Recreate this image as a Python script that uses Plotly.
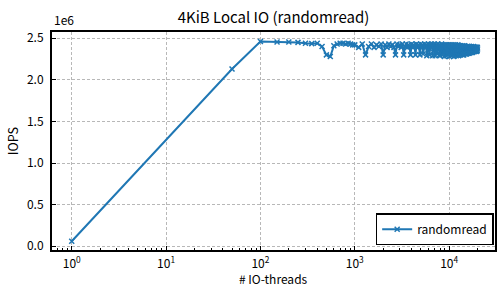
import plotly.graph_objects as go

# ---- data ----
threads_low = [1, 50, 100, 150, 200, 250, 300, 350, 400, 450,
               500, 550, 600, 650, 700, 750, 800, 850, 900, 950]
iops_low = [0.06, 2.13, 2.46, 2.455, 2.455, 2.45, 2.44, 2.435, 2.44, 2.40,
            2.30, 2.28, 2.41, 2.43, 2.44, 2.44, 2.43, 2.44, 2.43, 2.42]

threads_high = [1000, 1100, 1200, 1300, 1400, 1500, 1600, 1700, 1800, 1900,
                2000, 2100, 2200, 2300, 2400, 2500, 2600, 2700, 2800, 2900,
                3000, 3100, 3200, 3300, 3400, 3500, 3600, 3700, 3800, 3900,
                4000, 4100, 4200, 4300, 4400, 4500, 4600, 4700, 4800, 4900,
                5000, 5100, 5200, 5300, 5400, 5500, 5600, 5700, 5800, 5900,
                6000, 6100, 6200, 6300, 6400, 6500, 6600, 6700, 6800, 6900,
                7000, 7100, 7200, 7300, 7400, 7500, 7600, 7700, 7800, 7900,
                8000, 8100, 8200, 8300, 8400, 8500, 8600, 8700, 8800, 8900,
                9000, 9100, 9200, 9300, 9400, 9500, 9600, 9700, 9800, 9900,
                10000, 10100, 10200, 10300, 10400, 10500, 10600, 10700, 10800, 10900,
                11000, 11100, 11200, 11300, 11400, 11500, 11600, 11700, 11800, 11900,
                12000, 12100, 12200, 12300, 12400, 12500, 12600, 12700, 12800, 12900,
                13000, 13100, 13200, 13300, 13400, 13500, 13600, 13700, 13800, 13900,
                14000, 14100, 14200, 14300, 14400, 14500, 14600, 14700, 14800, 14900,
                15000, 15100, 15200, 15300, 15400, 15500, 15600, 15700, 15800, 15900,
                16000, 16100, 16200, 16300, 16400, 16500, 16600, 16700, 16800, 16900,
                17000, 17100, 17200, 17300, 17400, 17500, 17600, 17700, 17800, 17900,
                18000, 18100, 18200, 18300, 18400, 18500, 18600, 18700, 18800, 18900,
                19000, 19100, 19200, 19300, 19400, 19500, 19600, 19700, 19800, 19900,
                20000]
iops_high = [2.42, 2.39, 2.43, 2.30, 2.40, 2.43, 2.39, 2.42, 2.40, 2.43,
             2.30, 2.42, 2.39, 2.43, 2.40, 2.42, 2.39, 2.30, 2.43, 2.40,
             2.42, 2.39, 2.43, 2.30, 2.40, 2.43, 2.39, 2.42, 2.40, 2.30,
             2.43, 2.39, 2.42, 2.40, 2.30, 2.43, 2.39, 2.42, 2.40, 2.30,
             2.43, 2.39, 2.42, 2.31, 2.40, 2.43, 2.39, 2.42, 2.29, 2.40,
             2.43, 2.38, 2.30, 2.42, 2.39, 2.43, 2.40, 2.29, 2.42, 2.38,
             2.43, 2.29, 2.40, 2.42, 2.38, 2.31, 2.43, 2.39, 2.42, 2.30,
             2.29, 2.41, 2.38, 2.43, 2.30, 2.37, 2.42, 2.39, 2.33, 2.28,
             2.39, 2.42, 2.37, 2.29, 2.36, 2.42, 2.40, 2.30, 2.32, 2.42,
             2.38, 2.28, 2.37, 2.42, 2.33, 2.29, 2.41, 2.40, 2.30, 2.35,
             2.42, 2.36, 2.28, 2.39, 2.41, 2.31, 2.31, 2.42, 2.37, 2.29,
             2.38, 2.41, 2.32, 2.30, 2.42, 2.36, 2.29, 2.39, 2.41, 2.31,
             2.32, 2.41, 2.35, 2.30, 2.40, 2.40, 2.31, 2.34, 2.41, 2.33,
             2.30, 2.40, 2.38, 2.30, 2.37, 2.41, 2.32, 2.32, 2.40, 2.35,
             2.31, 2.39, 2.39, 2.31, 2.35, 2.40, 2.33, 2.32, 2.40, 2.36,
             2.32, 2.38, 2.40, 2.32, 2.34, 2.40, 2.35, 2.33, 2.39, 2.38,
             2.33, 2.36, 2.40, 2.34, 2.33, 2.39, 2.37, 2.33, 2.37, 2.39,
             2.34, 2.35, 2.40, 2.36, 2.34, 2.38, 2.39, 2.34, 2.36, 2.39,
             2.35, 2.35, 2.39, 2.38, 2.34, 2.37, 2.39, 2.35, 2.35, 2.39,
             2.37]

threads = threads_low + threads_high
iops_millions = iops_low + iops_high

x_tick_vals = [1, 10, 100, 1000, 10000]
x_tick_text = ["10<sup>0</sup>", "10<sup>1</sup>", "10<sup>2</sup>",
               "10<sup>3</sup>", "10<sup>4</sup>"]
y_tick_vals = [0.0, 0.5, 1.0, 1.5, 2.0, 2.5]
y_tick_text = ["0.0", "0.5", "1.0", "1.5", "2.0", "2.5"]

FONT = "Noto Sans CJK JP, Noto Sans, DejaVu Sans, sans-serif"
BLUE = "#1f77b4"
FS = 12

minor_vals = [m * d for d in [0.1, 1, 10, 100, 1000, 10000] for m in range(2, 10)]

fig = go.Figure()
fig.add_trace(go.Scatter(
    x=threads, y=iops_millions, mode="lines+markers", name="randomread",
    line=dict(color=BLUE, width=2),
    marker=dict(symbol="x-thin", size=5, line=dict(color=BLUE, width=1.5), color=BLUE),
))

fig.update_layout(
    width=499, height=287,
    margin=dict(l=52, r=2, t=32, b=37),
    paper_bgcolor="white", plot_bgcolor="white",
    font=dict(family=FONT, size=FS, color="black"),
    title=dict(text="4KiB Local IO (randomread)", x=0.5, xref="paper",
               xanchor="center", y=1 - 18 / 287, yanchor="middle",
               font=dict(size=15, family=FONT, color="black")),
    showlegend=True,
    legend=dict(x=0.997, y=0.022, xanchor="right", yanchor="bottom",
                bgcolor="white", bordercolor="black", borderwidth=1.5,
                font=dict(size=FS, family=FONT, color="black")),
    annotations=[
        dict(text="1e6", x=0, y=1, xref="paper", yref="paper", xanchor="left",
             yanchor="bottom", yshift=2, showarrow=False,
             font=dict(size=FS, family=FONT, color="black")),
        dict(text="# IO-threads", x=0.5, y=-0.133, xref="paper", yref="paper",
             xanchor="center", yanchor="middle", showarrow=False,
             font=dict(size=12, family=FONT, color="black")),
        dict(text="IOPS", x=-0.09, y=0.5, xref="paper", yref="paper",
             xanchor="center", yanchor="middle", textangle=-90, showarrow=False,
             font=dict(size=12.5, family=FONT, color="black")),
    ],
)

fig.update_xaxes(
    type="log", range=[-0.209, 4.486],
    tickmode="array", tickvals=x_tick_vals, ticktext=x_tick_text,
    ticks="inside", ticklen=4, tickwidth=1, tickcolor="black",
    tickfont=dict(size=FS),
    showline=True, linewidth=2, linecolor="black", mirror=True,
    showgrid=True, gridcolor="#b8b8b8", griddash="3px,2px", gridwidth=0.8,
    zeroline=False, ticklabelstandoff=2,
    minor=dict(tickmode="array", tickvals=minor_vals, ticks="inside",
               ticklen=2, tickwidth=0.8, tickcolor="black", showgrid=False),
)
fig.update_yaxes(
    range=[-0.045, 2.575],
    tickmode="array", tickvals=y_tick_vals, ticktext=y_tick_text,
    ticks="inside", ticklen=4, tickwidth=1, tickcolor="black",
    tickfont=dict(size=FS),
    showline=True, linewidth=2, linecolor="black", mirror=True,
    showgrid=True, gridcolor="#b8b8b8", griddash="3px,2px", gridwidth=0.8,
    zeroline=False, ticklabelstandoff=4,
)

fig.write_html("out.html",
               config={"displayModeBar": False},
               post_script="document.body.style.margin='0';document.body.style.overflow='hidden';")
